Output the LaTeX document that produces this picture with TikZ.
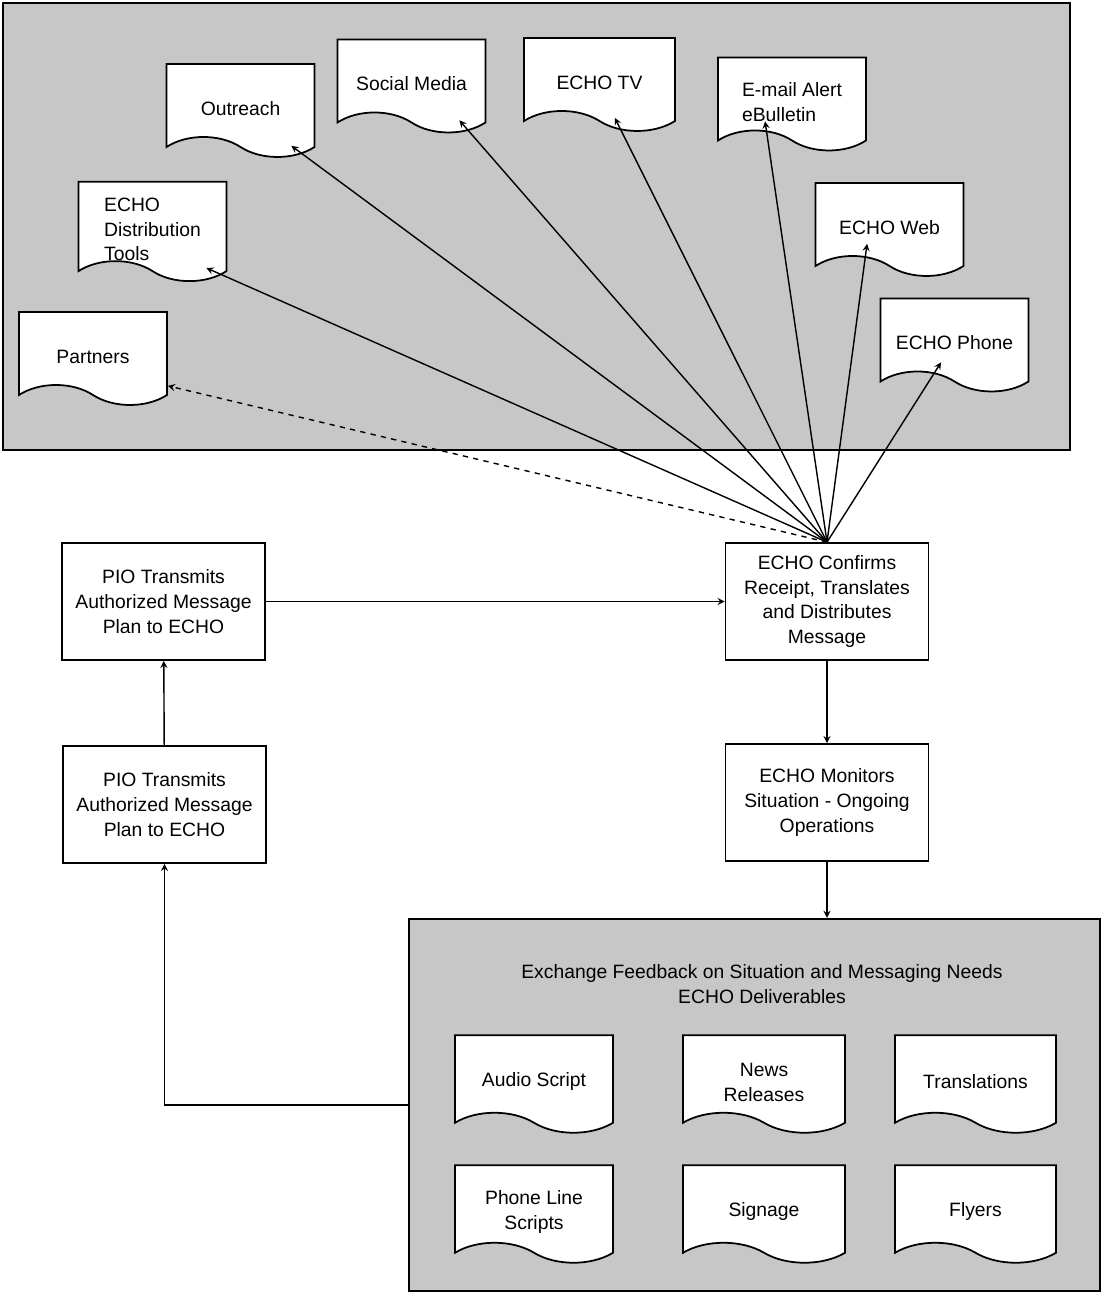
\documentclass[tikz,border=0pt]{standalone}
\usepackage{fontspec}
\setmainfont{Liberation Sans}
\usetikzlibrary{calc,shapes.symbols}
\newcommand{\dstrut}{\rule{0pt}{17pt}}

\begin{document}
\begin{tikzpicture}[x=0.02cm,y=-0.02cm,>=stealth,font=\fontsize{11}{14}\selectfont,
  doc/.style={shape=tape,draw,fill=white,line width=1pt,tape bend top=none,
    tape bend bottom=out and in,tape bend height=0.4cm,align=center,
    minimum width=2.96cm,minimum height=1.86cm},
  proc/.style={rectangle,draw,fill=white,line width=1pt,align=center,
    minimum width=4.06cm,minimum height=2.34cm},
  panel/.style={rectangle,draw,line width=1.4pt,fill=black!22}]
\useasboundingbox (0,0) rectangle (1103,1293);
% grey panels
\node(top) at (536.5,226.5)[panel,minimum width=21.34cm,minimum height=8.94cm]{};
\node(deliv) at (754.5,1105)[panel,minimum width=13.82cm,minimum height=7.44cm]{};
% distribution channels
\node(outreach) at (240.5,100.5)[doc]          {\dstrut Outreach};
\node(social)   at (411.5,76)[doc]             {\dstrut Social Media};
\node(tv)       at (599.5,74.5)[doc,minimum width=3.02cm] {\dstrut ECHO TV};
\node(email)    at (792,94)[doc,align=left]    {\dstrut E-mail Alert\\eBulletin};
\node(tools)    at (152.5,221.5)[doc,align=left,inner ysep=0pt] {\dstrut ECHO\\Distribution\\Tools};
\node(web)      at (889.5,219.5)[doc]          {\dstrut ECHO Web};
\node(partners) at (93,348.5)[doc]             {\dstrut Partners};
\node(phone)    at (954.5,335)[doc]            {\dstrut ECHO Phone};
% process steps
\node(pio1)     at (163.5,601.5)[proc] {PIO Transmits\\Authorized Message\\Plan to ECHO};
\node(pio2)     at (164.5,804.5)[proc] {PIO Transmits\\Authorized Message\\Plan to ECHO};
\node(confirm)  at (827,601.5)[proc]   {ECHO Confirms\\Receipt, Translates\\and Distributes\\Message};
\node(monitors) at (827,802.5)[proc]   {ECHO Monitors\\Situation - Ongoing\\Operations};
% deliverables
\node(title)    at (762,984) [align=center] {Exchange Feedback on Situation and Messaging Needs\\ECHO Deliverables};
\node(audio)    at (534,1074)[doc,minimum width=3.16cm,minimum height=1.95cm] {\dstrut Audio Script};
\node(news)     at (764,1074)[doc,minimum width=3.24cm,minimum height=1.95cm] {\dstrut News\\Releases};
\node(transl)   at (975.5,1074)[doc,minimum width=3.22cm,minimum height=1.95cm] {\dstrut Translations};
\node(phonel)   at (534,1204)[doc,minimum width=3.16cm,minimum height=1.95cm] {\dstrut Phone Line\\Scripts};
\node(signage)  at (764,1204)[doc,minimum width=3.24cm,minimum height=1.95cm] {\dstrut Signage};
\node(flyers)   at (975.5,1204)[doc,minimum width=3.22cm,minimum height=1.95cm] {\dstrut Flyers};

\path [->,line width=.8pt]
  (confirm.north) edge ($(outreach.south west)!0.84!(outreach.south east)+(0,8)$)
  (confirm.north) edge ($(social.south west)!0.82!(social.south east)+(0,7)$)
  (confirm.north) edge ($(tv.south west)!0.60!(tv.south east)+(0,6)$)
  (confirm.north) edge ($(email.south west)!0.32!(email.south east)+(0,-10)$)
  (confirm.north) edge ($(tools.south west)!0.86!(tools.south east)+(0,6)$)
  (confirm.north) edge ($(web.south west)!0.35!(web.south east)+(0,-13)$)
  (confirm.north) edge ($(phone.south west)!0.41!(phone.south east)+(0,-10)$)
  (confirm.north) edge [dashed] (partners.south east)
  (pio1)     edge (confirm)
  (confirm)  edge (monitors)
  (monitors) edge (monitors.south |- deliv.north)
  (pio2)     edge (pio1);
\draw [->,line width=.8pt] (deliv.west) -| (pio2.south);
\end{tikzpicture}
\end{document}
